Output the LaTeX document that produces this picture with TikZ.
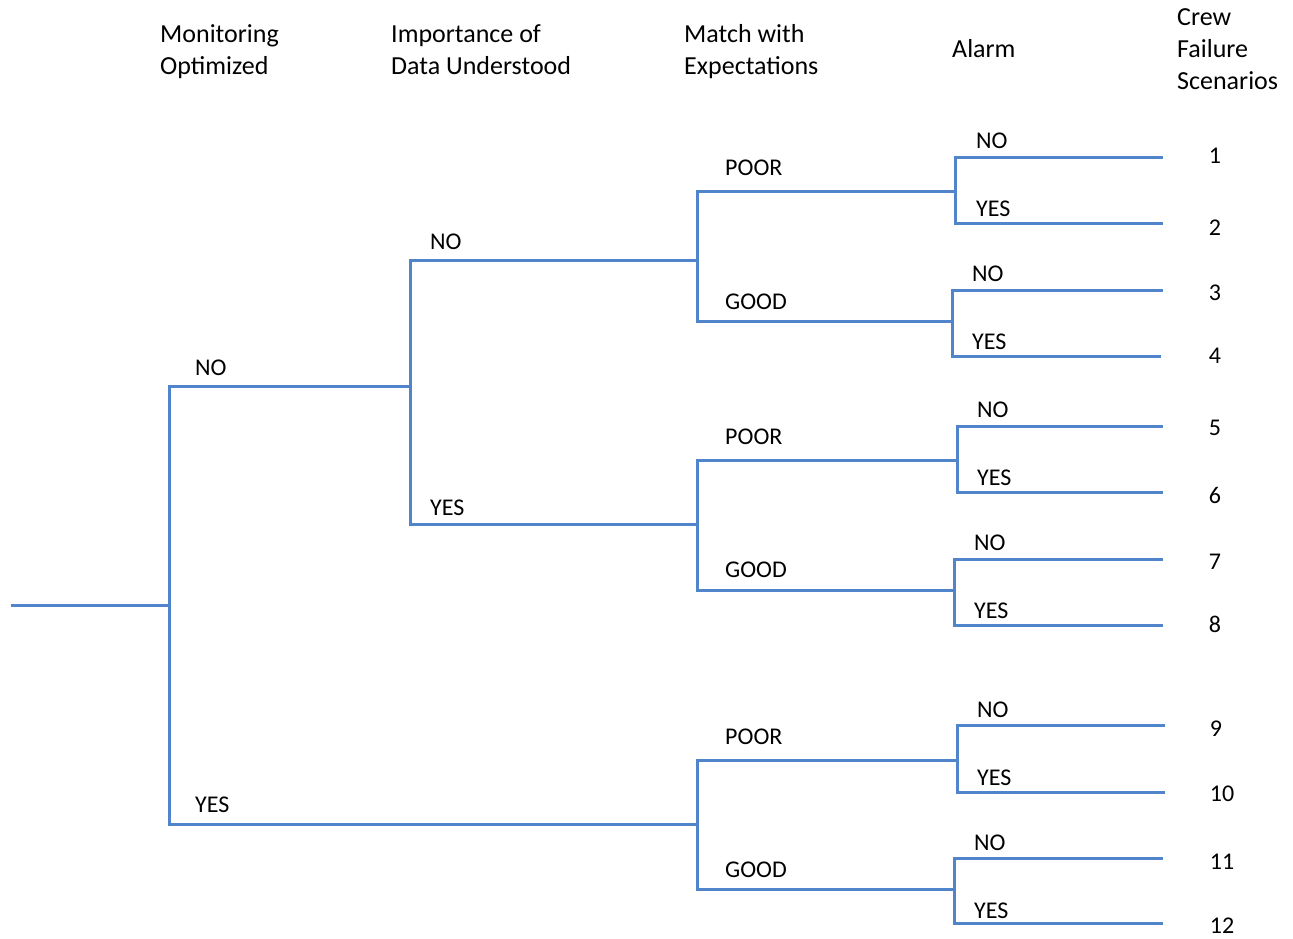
\documentclass[tikz,border=0pt]{standalone}
\usepackage{fontspec}
\setmainfont{Carlito}
\definecolor{treeblue}{RGB}{80,133,203}
\begin{document}
\begin{tikzpicture}[x=1pt,y=-1pt,
  branch/.style={draw=treeblue, line width=3pt},
  lbl/.style={anchor=west, inner sep=0pt, font=\fontsize{24}{29}\selectfont},
  num/.style={anchor=center, inner sep=0pt, font=\fontsize{24}{29}\selectfont},
  hdr/.style={anchor=base west, inner sep=0pt, font=\fontsize{26}{32}\selectfont}]
\useasboundingbox[fill=white] (0,0) rectangle (1293,939);
% headers
\node[hdr] (h1a) at (160,43) {Monitoring};
\node[hdr] (h1b) at (160,75) {Optimized};
\node[hdr] (h2a) at (391,43) {Importance of};
\node[hdr] (h2b) at (391,75) {Data Understood};
\node[hdr] (h3a) at (684,43) {Match with};
\node[hdr] (h3b) at (684,75) {Expectations};
\node[hdr] (h4) at (952,58) {Alarm};
\node[hdr] (h5a) at (1177,26) {Crew};
\node[hdr] (h5b) at (1177,58) {Failure};
\node[hdr] (h5c) at (1177,90) {Scenarios};
% coordinates
\coordinate (r0) at (11,605);
\coordinate (r) at (169,605);
\coordinate (m1) at (410,386);
\coordinate (m2) at (697,824);
\coordinate (g1) at (697,260);
\coordinate (g2) at (697,524);
\coordinate (a1) at (955,191);
\coordinate (a2) at (952,321);
\coordinate (a3) at (957,460);
\coordinate (a4) at (954,590);
\coordinate (a5) at (957,760);
\coordinate (a6) at (954,889);
\coordinate (e1) at (1163,158);
\coordinate (e2) at (1163,223);
\coordinate (e3) at (1163,290);
\coordinate (e4) at (1161,356);
\coordinate (e5) at (1163,426);
\coordinate (e6) at (1163,492);
\coordinate (e7) at (1163,559);
\coordinate (e8) at (1163,625);
\coordinate (e9) at (1165,725);
\coordinate (e10) at (1165,792);
\coordinate (e11) at (1163,858);
\coordinate (e12) at (1163,923);
% branches
\draw[branch] (r0) -- (r);
\draw[branch] (m1) -| (r) |- (m2);
\draw[branch] (g1) -| (m1) |- (g2);
\draw[branch] (a1) -| (g1) |- (a2);
\draw[branch] (a3) -| (g2) |- (a4);
\draw[branch] (a5) -| (m2) |- (a6);
\draw[branch] (e1) -| (a1) |- (e2);
\draw[branch] (e3) -| (a2) |- (e4);
\draw[branch] (e5) -| (a3) |- (e6);
\draw[branch] (e7) -| (a4) |- (e8);
\draw[branch] (e9) -| (a5) |- (e10);
\draw[branch] (e11) -| (a6) |- (e12);
% labels
\node[lbl] (l1) at (195,368) {NO};
\node[lbl] (l2) at (195,805) {YES};
\node[lbl] (l3) at (430,242) {NO};
\node[lbl] (l4) at (430,508) {YES};
\node[lbl] (p1) at (725,168) {POOR};
\node[lbl] (q1) at (725,302) {GOOD};
\node[lbl] (p2) at (725,437) {POOR};
\node[lbl] (q2) at (725,570) {GOOD};
\node[lbl] (p3) at (725,737) {POOR};
\node[lbl] (q3) at (725,870) {GOOD};
\node[lbl] (n1) at (976,141) {NO};
\node[lbl] (y1) at (976,209) {YES};
\node[lbl] (n2) at (972,274) {NO};
\node[lbl] (y2) at (972,342) {YES};
\node[lbl] (n3) at (977,410) {NO};
\node[lbl] (y3) at (977,478) {YES};
\node[lbl] (n4) at (974,543) {NO};
\node[lbl] (y4) at (974,611) {YES};
\node[lbl] (n5) at (977,710) {NO};
\node[lbl] (y5) at (977,778) {YES};
\node[lbl] (n6) at (974,843) {NO};
\node[lbl] (y6) at (974,911) {YES};
% scenario numbers
\node[num] (s1) at (1215,156) {1};
\node[num] (s2) at (1215,228) {2};
\node[num] (s3) at (1215,293) {3};
\node[num] (s4) at (1215,356) {4};
\node[num] (s5) at (1215,428) {5};
\node[num] (s6) at (1215,495) {6};
\node[num] (s7) at (1215,562) {7};
\node[num] (s8) at (1215,624) {8};
\node[num] (s9) at (1216,729) {9};
\node[num] (s10) at (1222,794) {10};
\node[num] (s11) at (1222,862) {11};
\node[num] (s12) at (1222,926) {12};
\end{tikzpicture}
\end{document}
